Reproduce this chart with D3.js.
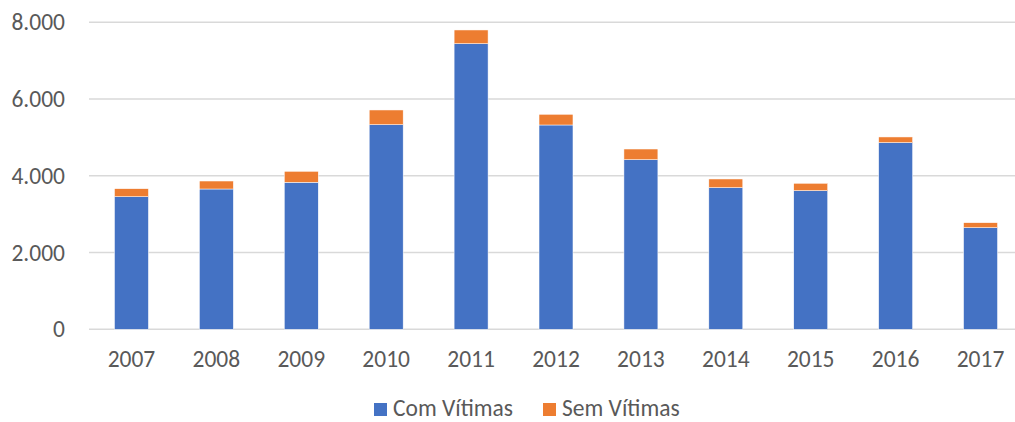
<!DOCTYPE html>
<html>
<head>
<meta charset="utf-8">
<script src="https://cdn.jsdelivr.net/npm/d3@7"></script>
<style>
  body { margin: 0; background: #fff; }
  text { font-family: Carlito, "Open Sans", sans-serif; fill: #595959; }
</style>
</head>
<body>
<svg id="chart" width="1015" height="422"></svg>
<script>
const years = ["2007", "2008", "2009", "2010", "2011", "2012", "2013", "2014", "2015", "2016", "2017"];
const comVitimas = [3455, 3656, 3830, 5332, 7443, 5324, 4420, 3691, 3613, 4864, 2648];
const semVitimas = [209, 208, 287, 383, 357, 279, 278, 226, 192, 148, 130];
const yTicks = [0, 2000, 4000, 6000, 8000];
const seriesNames = ["Com Vítimas", "Sem Vítimas"];
const seriesColors = ["#4472C4", "#ED7D31"];

const svg = d3.select("#chart");

const x = d3.scaleBand()
  .domain(years)
  .range([89, 1023])
  .paddingInner(0.6)
  .paddingOuter(0.3);

const y = d3.scaleLinear()
  .domain([0, 8000])
  .range([329.3, 22.3]);

const fmt = d => d3.format(",")(d).replace(/,/g, ".");

// gridlines
svg.append("g")
  .selectAll("line")
  .data(yTicks)
  .join("line")
  .attr("x1", 89)
  .attr("x2", 1023)
  .attr("y1", d => y(d))
  .attr("y2", d => y(d))
  .attr("stroke", "#d9d9d9")
  .attr("stroke-width", 1.5);

// y labels
svg.append("g")
  .selectAll("text")
  .data(yTicks)
  .join("text")
  .attr("x", 65)
  .attr("y", d => y(d))
  .attr("dy", "0.34em")
  .attr("text-anchor", "end")
  .attr("font-size", "23.5px")
  .text(fmt);

// stacked bars
const rows = years.map((yr, i) => ({ year: yr, com: comVitimas[i], sem: semVitimas[i] }));
const stack = d3.stack().keys(["com", "sem"])(rows);

svg.append("g")
  .selectAll("g")
  .data(stack)
  .join("g")
  .attr("fill", (d, i) => seriesColors[i])
  .selectAll("rect")
  .data(d => d)
  .join("rect")
  .attr("x", d => x(d.data.year))
  .attr("width", x.bandwidth())
  .attr("y", d => y(d[1]))
  .attr("height", d => y(d[0]) - y(d[1]))
  .attr("stroke", "#fff")
  .attr("stroke-width", 0.5);

// x labels
svg.append("g")
  .selectAll("text")
  .data(years)
  .join("text")
  .attr("x", d => x(d) + x.bandwidth() / 2)
  .attr("y", 367)
  .attr("text-anchor", "middle")
  .attr("font-size", "23.5px")
  .text(d => d);

// legend (kept a few px above the bottom edge so nothing is clipped)
const legendX = [374, 543];
const legend = svg.append("g")
  .selectAll("g")
  .data(seriesNames)
  .join("g")
  .attr("transform", (d, i) => `translate(${legendX[i]},0)`);

legend.append("rect")
  .attr("x", 0)
  .attr("y", 403)
  .attr("width", 13)
  .attr("height", 13)
  .attr("fill", (d, i) => seriesColors[i]);

legend.append("text")
  .attr("x", 19)
  .attr("y", 416)
  .attr("font-size", "23.5px")
  .text(d => d);
</script>
</body>
</html>
